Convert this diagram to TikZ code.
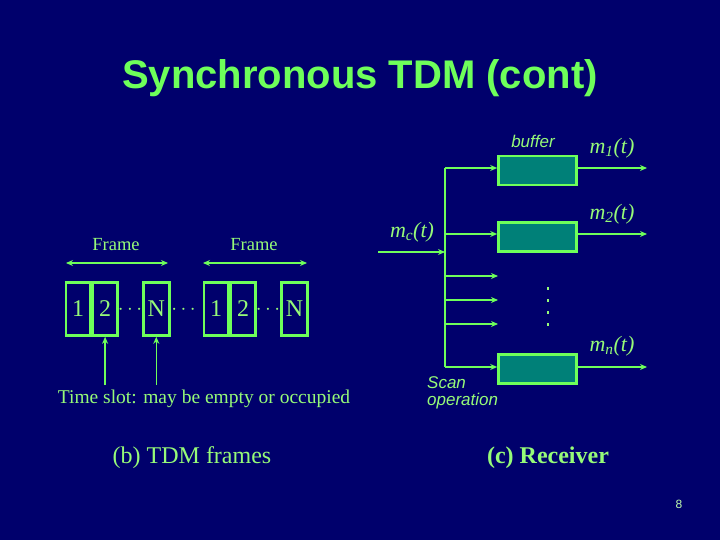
\documentclass[tikz,border=0pt]{standalone}
\usepackage{fontspec}
\setmainfont{Liberation Serif}
\setsansfont{Liberation Sans}
\usetikzlibrary{arrows.meta}
\definecolor{bg}{RGB}{0,0,108}
\definecolor{gr}{RGB}{110,255,90}
\definecolor{txt}{RGB}{150,250,120}
\definecolor{teal2}{RGB}{0,128,120}
\tikzset{
  slot/.style={draw=gr, line width=2.6pt, minimum height=53pt, inner sep=0pt, text=txt, font=\fontsize{24}{24}\selectfont},
  buf/.style={draw=gr, fill=teal2, line width=2.6pt, minimum width=78pt, minimum height=29pt, inner sep=0pt},
  wire/.style={gr, line width=1.4pt},
  arr/.style={wire, -{Stealth[length=7pt,width=6pt]}},
  darr/.style={wire, {Stealth[length=7pt,width=6pt]}-{Stealth[length=7pt,width=6pt]}},
  lbl/.style={text=txt, inner sep=0pt, font=\fontsize{18.5}{20}\selectfont},
  slbl/.style={text=txt, inner sep=0pt, font=\sffamily\itshape\fontsize{17}{18}\selectfont, align=left},
  sig/.style={text=txt, inner sep=0pt, font=\fontsize{22}{22}\selectfont\itshape},
  dots/.style={text=txt, inner sep=0pt, font=\fontsize{20}{20}\selectfont},
}
\begin{document}
\begin{tikzpicture}[x=1pt,y=-1pt]
\fill[bg] (0,0) rectangle (720,540);
\useasboundingbox (0,0) rectangle (720,540);
% title
\node[text=gr, font=\sffamily\bfseries\fontsize{40}{40}\selectfont, inner sep=0pt] (title) at (360,78) {Synchronous TDM (cont)};
% ---- (b) TDM frames ----
\node[lbl] (fr1) at (116,245) {Frame};
\node[lbl] (fr2) at (254,245) {Frame};
\coordinate (fa1) at (66,263);
\coordinate (fb1) at (168,263);
\coordinate (fa2) at (203,263);
\coordinate (fb2) at (307,263);
\draw[darr] (fa1) -- (fb1);
\draw[darr] (fa2) -- (fb2);
\node[slot, minimum width=24pt] (s1) at (78,309) {1};
\node[slot, minimum width=25pt, anchor=west] (s2) at (s1.east) {2};
\node[slot, minimum width=26pt] (sN) at (156.3,309) {N};
\node[slot, minimum width=24pt] (t1) at (216,309) {1};
\node[slot, minimum width=25pt, anchor=west] (t2) at (t1.east) {2};
\node[slot, minimum width=26pt] (tN) at (294.5,309) {N};
\node[dots] (d1) at (130,310) {$\cdots$};
\node[dots] (d2) at (183.5,310) {$\cdots$};
\node[dots] (d3) at (268,310) {$\cdots$};
\node[lbl, font=\fontsize{19.5}{20}\selectfont] (ts) at (204,399) {Time slot: may be empty or occupied};
\coordinate (ta) at (s2.south |- 0,385);
\coordinate (tb) at (sN.south |- 0,385);
\draw[arr] (ta) -- (s2.south);
\draw[arr] (tb) -- (sN.south);
\node[text=txt, inner sep=0pt, font=\fontsize{24}{24}\selectfont] (capb) at (192,458) {(b) TDM frames};
% ---- (c) Receiver ----
\node[buf] (b1) at (537.5,170.5) {};
\node[buf] (b2) at (537.5,237) {};
\node[buf] (bn) at (537.5,369) {};
\coordinate (in) at (378,252);
\coordinate (bj) at (445,252);
\coordinate (bt) at (445,168);
\coordinate (bb) at (445,367);
\draw[wire] (bt) -- (bb);
\draw[arr] (in) -- (bj);
\coordinate (k2) at (445,234);
\coordinate (k3) at (445,276);
\coordinate (k4) at (445,300);
\coordinate (k5) at (445,324);
\draw[arr] (bt) -- (bt -| b1.west);
\draw[arr] (k2) -- (k2 -| b2.west);
\draw[arr] (bb) -- (bb -| bn.west);
\coordinate (e3) at (498,276);
\coordinate (e4) at (498,300);
\coordinate (e5) at (498,324);
\draw[arr] (k3) -- (e3);
\draw[arr] (k4) -- (e4);
\draw[arr] (k5) -- (e5);
\coordinate (o1) at (647,168);
\coordinate (o2) at (647,234);
\coordinate (on) at (647,367);
\draw[arr] (o1 -| b1.east) -- (o1);
\draw[arr] (o2 -| b2.east) -- (o2);
\draw[arr] (on -| bn.east) -- (on);
\foreach \yy [count=\i] in {288.5,300.5,312.5,324.5}
  \fill[txt] (546.8,\yy-1.3) rectangle (549.4,\yy+1.3);
\node[slbl] (bufl) at (533,141) {buffer};
\node[sig] (m1) at (612,148) {m\textsubscript{1}(t)};
\node[sig] (m2) at (612,214) {m\textsubscript{2}(t)};
\node[sig] (mn) at (612,346) {m\textsubscript{n}(t)};
\node[sig] (mc) at (412,232) {m\textsubscript{c}(t)};
\node[slbl, anchor=west] (scan) at (427,383) {Scan};
\node[slbl, anchor=west] (oper) at (427,401) {operation};
\node[text=txt, inner sep=0pt, font=\bfseries\fontsize{24}{24}\selectfont] (capc) at (548,458) {(c) Receiver};
\node[text=txt!60!white, inner sep=0pt, font=\sffamily\fontsize{12}{12}\selectfont] (pg) at (679,504) {8};
\end{tikzpicture}
\end{document}
